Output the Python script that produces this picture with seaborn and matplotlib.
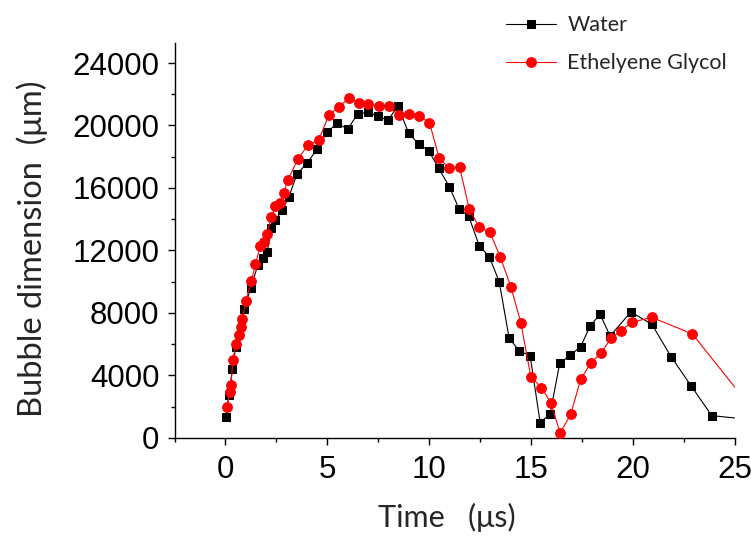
import matplotlib
matplotlib.use("Agg")
import matplotlib.pyplot as plt
import seaborn as sns
import pandas as pd
from matplotlib.ticker import MultipleLocator

water_t = [0.03, 0.16, 0.34, 0.5, 0.92, 1.23, 1.59, 1.86, 2.05, 2.25, 2.45, 2.78, 3.1, 3.51,
           4.0, 4.49, 4.98, 5.47, 6.0, 6.49, 6.98, 7.47, 7.97, 8.46, 8.99, 9.48, 9.97, 10.46,
           10.98, 11.47, 11.93, 12.45, 12.94, 13.43, 13.92, 14.41, 14.95, 15.44, 15.93, 16.4,
           16.91, 17.43, 17.89, 18.38, 18.87, 19.89, 20.92, 21.86, 22.84, 23.86, 26.0]
water_d = [1370, 2780, 4400, 5810, 8250, 9580, 11070, 11530, 11920, 13420, 13930, 14590, 15400,
           16900, 17580, 18480, 19560, 20140, 19780, 20740, 20840, 20610, 20330, 21250, 19500,
           18820, 18390, 17260, 16090, 14640, 14210, 12310, 11610, 10010, 6380, 5590, 5250, 980,
           1560, 4780, 5290, 5850, 7170, 7920, 6530, 8060, 7280, 5210, 3350, 1430, 1150]

eg_t = [0.08, 0.2, 0.27, 0.36, 0.52, 0.65, 0.74, 0.82, 1.0, 1.27, 1.47, 1.7, 1.87, 2.03, 2.25,
        2.45, 2.66, 2.86, 3.06, 3.55, 4.05, 4.58, 5.07, 5.56, 6.05, 6.54, 7.0, 7.52, 8.0, 8.5,
        9.02, 9.5, 10.01, 10.49, 10.98, 11.49, 11.96, 12.45, 12.96, 13.48, 14.0, 14.49, 14.98,
        15.5, 15.97, 16.42, 16.94, 17.43, 17.94, 18.43, 18.92, 19.41, 19.94, 20.92, 22.91, 25.5]
eg_d = [1960, 2960, 3390, 5000, 6000, 6590, 7120, 7590, 8740, 10050, 11120, 12260, 12560, 13070,
        14150, 14850, 15020, 15700, 16510, 17860, 18730, 19070, 20670, 21200, 21740, 21460,
        21360, 21250, 21250, 20650, 20740, 20610, 20180, 17900, 17260, 17320, 14660, 13480,
        13200, 11600, 9690, 7380, 3930, 3230, 2240, 320, 1515, 3776, 4821, 5461, 6379, 6869,
        7403, 7723, 6656, 2420]

series_names = ["Water", "Ethelyene Glycol"]
x_ticks = [0, 5, 10, 15, 20, 25]
y_ticks = [0, 4000, 8000, 12000, 16000, 20000, 24000]

sns.set_style("ticks")
plt.rcParams["font.family"] = ["Liberation Sans", "DejaVu Sans"]

fig = plt.figure(figsize=(7.51, 5.39), dpi=100)
ax = fig.add_axes([0.2324, 0.1874, 0.7463, 0.7334])

df_w = pd.DataFrame({"t": water_t, "d": water_d})
df_e = pd.DataFrame({"t": eg_t, "d": eg_d})

sns.lineplot(data=df_w, x="t", y="d", ax=ax, sort=False, estimator=None,
             color="black", lw=0.8, marker="s", markersize=5.8,
             markeredgecolor="black", markerfacecolor="black", label=series_names[0], zorder=3)
sns.lineplot(data=df_e, x="t", y="d", ax=ax, sort=False, estimator=None,
             color="red", lw=0.8, marker="o", markersize=7.0,
             markeredgecolor="red", markerfacecolor="red", label=series_names[1], zorder=4)

ax.set_xlim(-2.5, 25)
ax.set_ylim(0, 25300)
ax.set_xticks(x_ticks)
ax.set_yticks(y_ticks)
ax.xaxis.set_minor_locator(MultipleLocator(2.5))
ax.yaxis.set_minor_locator(MultipleLocator(2000))
ax.set_xticklabels([str(v) for v in x_ticks])
ax.set_yticklabels([str(v) for v in y_ticks])

for s in ["top", "right"]:
    ax.spines[s].set_visible(False)
for s in ["left", "bottom"]:
    ax.spines[s].set_linewidth(1.0)
    ax.spines[s].set_color("black")

ax.tick_params(axis="both", which="major", direction="out", length=5, width=1.0,
               labelsize=22.5, colors="black", pad=6)
ax.tick_params(axis="both", which="minor", direction="out", length=3, width=1.0, colors="black")
ax.tick_params(axis="x", which="major", pad=7)

ax.set_xlabel("Time   (\u03bcs)", fontsize=22, family=["Lato", "DejaVu Sans"])
ax.set_ylabel("Bubble dimension  (\u03bcm)", fontsize=23.5, family=["Lato", "DejaVu Sans"])
ax.xaxis.set_label_coords(0.486, -0.165)
ax.yaxis.set_label_coords(-0.226, 0.478)

if ax.get_legend():
    ax.get_legend().remove()
handles, labels = ax.get_legend_handles_labels()
leg = fig.legend(handles, labels, loc="upper left", bbox_to_anchor=(0.648, 1.008),
                 frameon=False, prop={"family": ["Lato", "DejaVu Sans"], "size": 15.5},
                 handlelength=2.3, handletextpad=0.55, labelspacing=0.85)

fig.savefig("out.png", dpi=100)
